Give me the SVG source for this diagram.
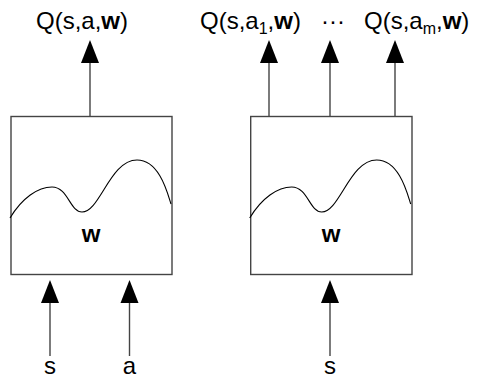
<svg xmlns="http://www.w3.org/2000/svg" width="478" height="379" viewBox="0 0 478 379">
<style>
.box{fill:#fff;stroke:#444;stroke-width:1.4}
.curve{fill:none;stroke:#000;stroke-width:1.1}
.ln{stroke:#444;stroke-width:1.4;fill:none}
.ah{fill:#000}
text{font-family:"Liberation Sans",Arial,sans-serif;font-size:24px;fill:#000}
.b{font-weight:bold}
.sub{font-size:16px}
</style>
<rect width="478" height="379" fill="#fff"/>
<g id="connectors">
<line class="ln" x1="90" y1="116.5" x2="90" y2="62"/>
<polygon class="ah" points="90,40 81,63 99,63"/>
<line class="ln" x1="269" y1="116.5" x2="269" y2="62"/>
<polygon class="ah" points="269,40 260,63 278,63"/>
<line class="ln" x1="330" y1="116.5" x2="330" y2="62"/>
<polygon class="ah" points="330,40 321,63 339,63"/>
<line class="ln" x1="395" y1="116.5" x2="395" y2="62"/>
<polygon class="ah" points="395,40 386,63 404,63"/>
<line class="ln" x1="50" y1="356" x2="50" y2="302"/>
<polygon class="ah" points="50,280 41,303 59,303"/>
<line class="ln" x1="129.5" y1="356" x2="129.5" y2="302"/>
<polygon class="ah" points="129.5,280 120.5,303 138.5,303"/>
<line class="ln" x1="330" y1="356" x2="330" y2="302"/>
<polygon class="ah" points="330,280 321,303 339,303"/>
</g>
<g id="node-left">
<rect class="box" x="11" y="116.5" width="161" height="158"/>
<path class="curve" d="M10,218 C22,198 38,187 52,187 C68,187 70,212 82,212 C100,212 110,160 137,160 C160,160 168,195 171,204"/>
<text class="b" x="91" y="242" text-anchor="middle">w</text>
</g>
<g id="node-right">
<rect class="box" x="250.7" y="116.5" width="161.3" height="158"/>
<path class="curve" d="M249.7,218 C261.7,198 277.7,187 291.7,187 C307.7,187 309.7,212 321.7,212 C339.7,212 349.7,160 376.7,160 C399.7,160 407.7,195 410.7,204"/>
<text class="b" x="331" y="242" text-anchor="middle">w</text>
</g>
<g id="labels">
<text x="36" y="29">Q(s,a,<tspan class="b">w</tspan>)</text>
<text x="200" y="29">Q(s,a<tspan class="sub" dy="5">1</tspan><tspan dy="-5">,</tspan><tspan class="b">w</tspan>)</text>
<text x="321" y="29">···</text>
<text x="364" y="29">Q(s,a<tspan class="sub" dy="5">m</tspan><tspan dy="-5">,</tspan><tspan class="b">w</tspan>)</text>
<text x="50" y="373.5" text-anchor="middle">s</text>
<text x="129.5" y="373.5" text-anchor="middle">a</text>
<text x="330" y="373.5" text-anchor="middle">s</text>
</g>
</svg>
